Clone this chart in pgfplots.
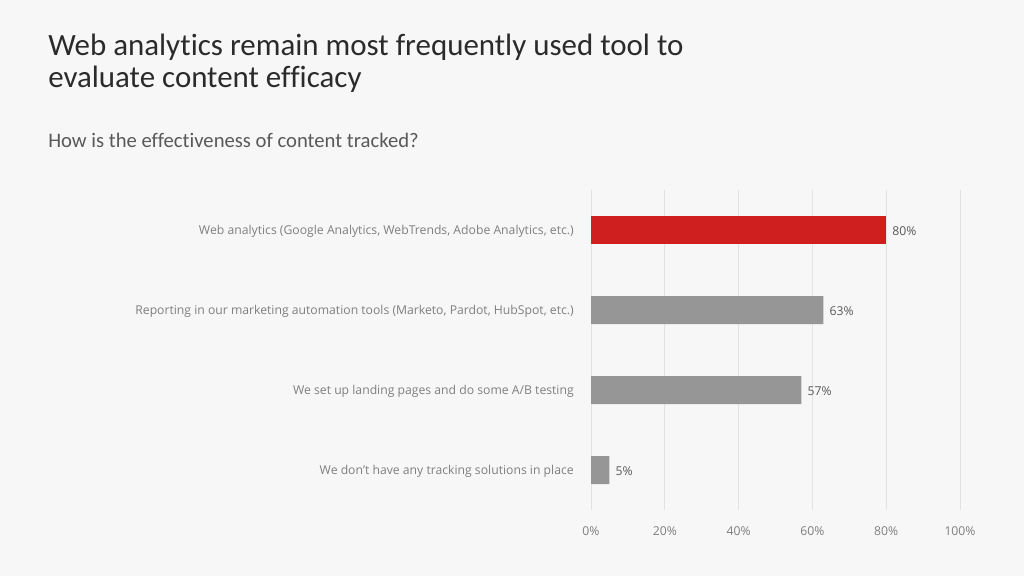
\documentclass[border=0pt]{standalone}
\usepackage{pgfplots}
\pgfplotsset{compat=1.18}
\usepackage{fontspec}
\setmainfont{Open Sans}
\newfontfamily\titlefont[Ligatures={NoCommon,NoRequired,NoContextual}]{Carlito}
\definecolor{bg}{HTML}{F6F7F6}
\definecolor{titlec}{HTML}{2B2B2B}
\definecolor{subc}{HTML}{595959}
\definecolor{labc}{HTML}{7F7F7F}
\definecolor{gridc}{HTML}{E2E2E2}
\definecolor{redbar}{HTML}{D01F1F}
\definecolor{graybar}{HTML}{969696}
\begin{document}
\begin{tikzpicture}
\path[use as bounding box, fill=bg] (0,0) rectangle (768pt,432pt);
\node[anchor=base west, inner sep=0pt, text=titlec, font=\titlefont\fontsize{23.2}{27}\selectfont] at (36pt,390pt) {Web analytics remain most frequently used tool to};
\node[anchor=base west, inner sep=0pt, text=titlec, font=\titlefont\fontsize{23.2}{27}\selectfont] at (36pt,366.5pt) {evaluate content efficacy};
\node[anchor=base west, inner sep=0pt, text=subc, font=\titlefont\fontsize{15.5}{18}\selectfont] at (36pt,321pt) {How is the effectiveness of content tracked?};
\begin{axis}[
  at={(443.25pt,49.5pt)}, anchor=south west,
  scale only axis, width=276.75pt, height=240pt,
  xmin=0, xmax=100, ymin=-0.5, ymax=3.5,
  y dir=reverse,
  xbar, bar width=21pt, bar shift=0pt,
  axis line style={draw=none},
  xmajorgrids, grid style={gridc, line width=0.6pt},
  xtick={0,20,40,60,80,100},
  xticklabel={\pgfmathprintnumber{\tick}\%},
  ytick={0,1,2,3},
  yticklabels={{Web analytics (Google Analytics, WebTrends, Adobe Analytics, etc.)},
    {Reporting in our marketing automation tools (Marketo, Pardot, HubSpot, etc.)},
    {We set up landing pages and do some A/B testing},
    {We don’t have any tracking solutions in place}},
  major tick length=0pt,
  tick style={draw=none},
  /pgf/number format/assume math mode=true,
  xticklabel style={font=\fontsize{9.15}{11}\selectfont, text=labc, anchor=base, inner sep=0pt, yshift=-18.75pt},
  yticklabel style={font=\fontsize{9.15}{11}\selectfont, text=labc, anchor=east, inner sep=0pt, xshift=-12.75pt, yshift=-1pt},
  nodes near coords={\pgfmathprintnumber{\pgfplotspointmeta}\%},
  point meta=x,
  nodes near coords style={font=\fontsize{9.15}{11}\selectfont, text=subc, anchor=west, inner sep=0pt, xshift=4.5pt, yshift=-1.2pt},
  clip=false,
]
\addplot[fill=redbar, draw=none] coordinates {(80,0)};
\addplot[fill=graybar, draw=none] coordinates {(63,1) (57,2) (5,3)};
\end{axis}
\end{tikzpicture}
\end{document}
